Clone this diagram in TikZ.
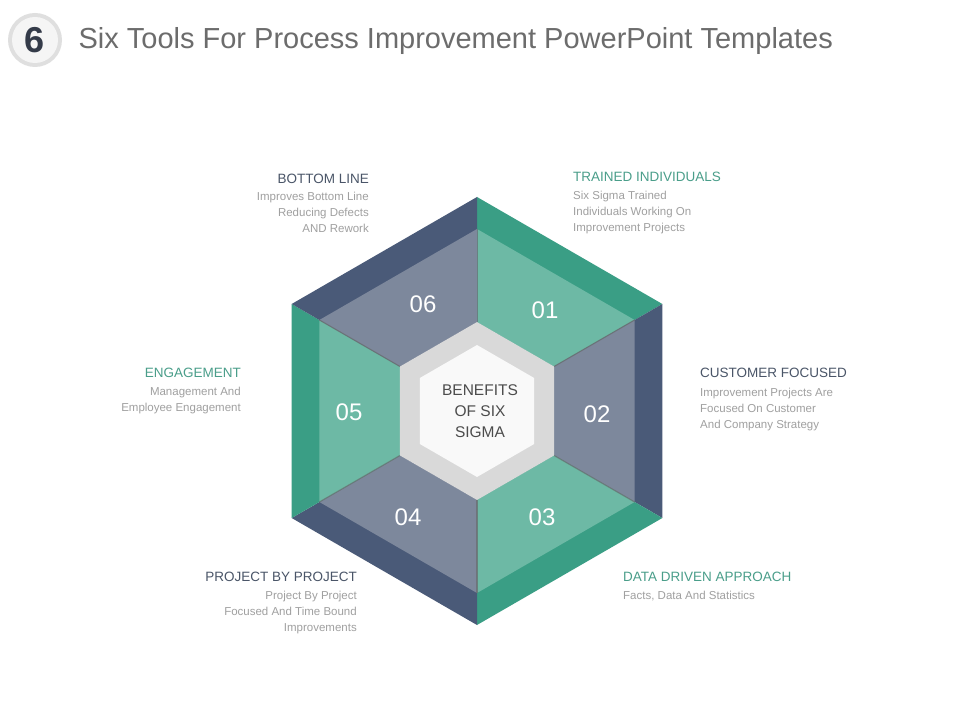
\documentclass[tikz,border=0pt]{standalone}
\usepackage{fontspec}
\setmainfont{Liberation Sans}
\usetikzlibrary{calc}
\definecolor{tealrim}{HTML}{3A9E85}
\definecolor{tealface}{HTML}{6DB9A5}
\definecolor{slaterim}{HTML}{4A5A78}
\definecolor{slateface}{HTML}{7D889C}
\definecolor{ttlteal}{HTML}{4A9E8A}
\definecolor{ttlslate}{HTML}{4A5568}
\definecolor{desc}{HTML}{A0A0A0}
\tikzset{
 num/.style={text=white,font=\fontsize{24}{24}\selectfont},
 ttl/.style={font=\fontsize{13.5}{14}\selectfont,inner sep=0pt},
 dsc/.style={font=\fontsize{11.5}{16}\selectfont,text=desc,inner sep=0pt},
}
\begin{document}
\begin{tikzpicture}[x=1pt,y=1pt]
\useasboundingbox (0,0) rectangle (960,720);
\fill[white] (0,0) rectangle (960,720);
% title
\fill[gray!25] (35,680) circle (27);
\fill[gray!8] (35,680) circle (23);
\node[font=\fontsize{36}{36}\selectfont\bfseries,text=ttlslate!70!black] (six) at (35,680) {6};
\node[anchor=west,font=\fontsize{29}{30}\selectfont,text=gray!85!black] (title) at (75,679) {Six Tools For Process Improvement PowerPoint Templates};
% hexagon
\coordinate (c) at (477,309);
\foreach \a/\rim/\face in {90/tealrim/tealface,30/slaterim/slateface,-30/tealrim/tealface,-90/slaterim/slateface,-150/tealrim/tealface,150/slaterim/slateface}{
  \fill[\rim] (c) -- ($(c)+(\a:214)$) -- ($(c)+(\a-60:214)$) -- cycle;
  \fill[\face] ($(c)+(\a:89)$) -- ($(c)+(\a:182)$) -- ($(c)+(\a-60:182)$) -- ($(c)+(\a-60:89)$) -- cycle;
  \draw[black!60,line width=1.2pt,opacity=0.6] ($(c)+(\a:89)$) -- ($(c)+(\a:182)$);
}
\fill[gray!30] (c) +(90:89) -- +(30:89) -- +(-30:89) -- +(-90:89) -- +(-150:89) -- +(150:89) -- cycle;
\fill[gray!5] (c) +(90:66) -- +(30:66) -- +(-30:66) -- +(-90:66) -- +(-150:66) -- +(150:66) -- cycle;
\node[align=center,font=\fontsize{15.5}{21}\selectfont,text=black!70] (center) at (480,309) {BENEFITS\\OF SIX\\SIGMA};
\node[num] (n1) at (545,410) {01};
\node[num] (n2) at (597,306) {02};
\node[num] (n3) at (542,203) {03};
\node[num] (n4) at (408,203) {04};
\node[num] (n5) at (349,308) {05};
\node[num] (n6) at (423,416) {06};
% labels
\node[ttl,anchor=east,text=ttlslate] (t6) at (369,541) {BOTTOM LINE};
\node[dsc,anchor=north east,align=right] (d6) at (369,528) {Improves Bottom Line\\Reducing Defects\\AND Rework};
\node[ttl,anchor=west,text=ttlteal] (t1) at (573,543) {TRAINED INDIVIDUALS};
\node[dsc,anchor=north west,align=left] (d1) at (573,529) {Six Sigma Trained\\Individuals Working On\\Improvement Projects};
\node[ttl,anchor=west,text=ttlslate] (t2) at (700,347) {CUSTOMER FOCUSED};
\node[dsc,anchor=north west,align=left] (d2) at (700,332) {Improvement Projects Are\\Focused On Customer\\And Company Strategy};
\node[ttl,anchor=east,text=ttlteal] (t5) at (241,347) {ENGAGEMENT};
\node[dsc,anchor=north east,align=right] (d5) at (241,333) {Management And\\Employee Engagement};
\node[ttl,anchor=east,text=ttlslate] (t4) at (357,143) {PROJECT BY PROJECT};
\node[dsc,anchor=north east,align=right] (d4) at (357,129) {Project By Project\\Focused And Time Bound\\Improvements};
\node[ttl,anchor=west,text=ttlteal] (t3) at (623,143) {DATA DRIVEN APPROACH};
\node[dsc,anchor=north west,align=left] (d3) at (623,129) {Facts, Data And Statistics};
\end{tikzpicture}
\end{document}
